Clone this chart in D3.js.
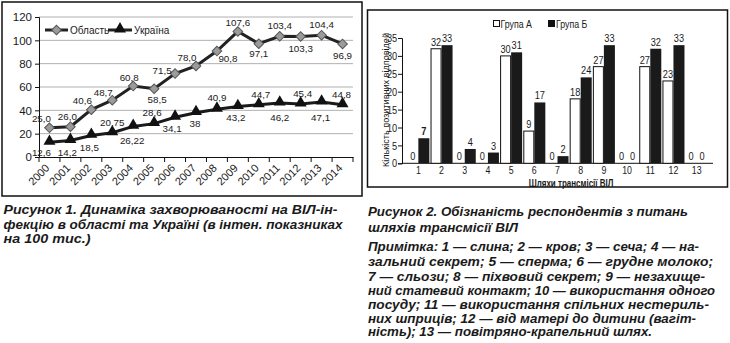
<!DOCTYPE html>
<html><head><meta charset="utf-8">
<script src="https://cdn.jsdelivr.net/npm/d3@7"></script>
<style>
html,body{margin:0;padding:0;background:#fff;}
svg{display:block;}
text{font-family:"Liberation Sans",Arial,sans-serif;fill:#1a1a1a;}
.cap{font-weight:bold;font-style:italic;font-size:13.5px;fill:#1a1a1a;}
</style></head>
<body>
<svg id="c" width="730" height="343"></svg>
<script>
// ---------- data: figure 1 ----------
const years = ["2000","2001","2002","2003","2004","2005","2006","2007","2008","2009","2010","2011","2012","2013","2014"];
const oblast = [25.0,26.0,40.6,48.7,60.8,58.5,71.5,78.0,90.8,107.6,97.1,103.4,103.3,104.4,96.9];
const ukraine = [12.6,14.2,18.5,20.75,26.22,28.6,34.1,38,40.9,43.2,44.7,46.2,45.4,47.1,44.8];
const oblastLabels = ["25,0","26,0","40,6","48,7","60,8","58,5","71,5","78,0","90,8","107,6","97,1","103,4","103,3","104,4","96,9"];
const ukraineLabels = ["12,6","14,2","18,5","20,75","26,22","28,6","34,1","38","40,9","43,2","44,7","46,2","45,4","47,1","44,8"];
const yTicks1 = [0,20,40,60,80,100,120];
const seriesNames1 = ["Область","Україна"];

// ---------- data: figure 2 ----------
const routes = ["1","2","3","4","5","6","7","8","9","10","11","12","13"];
const groupA = [0,32,0,0,30,9,0,18,27,0,27,23,0];
const groupB = [7,33,4,3,31,17,2,24,33,0,32,33,0];
const yTicks2 = [0,5,10,15,20,25,30,35];
const groupNames = ["Група А","Група Б"];

// label placement offsets (layout only)
const oblastOff = [[-8,-9],[-3,-10],[-9,-9],[-9,-8],[-4,-9],[3,11],[-13,-3],[-9,-9],[11,7],[0,-9],[0,10],[0,-11],[0,12],[0,-11],[0,12]];
const ukraineOff = [[-8,10],[-3,12],[-2,12],[0,-10],[-1,14],[-2,-11],[-3,11],[-1,11],[0,-12],[-2,11],[2,-10],[0,14],[2,-11],[-1,15],[-1,-10]];

const svg = d3.select("#c");
const NX = 0.8; // horizontal condensation of figure-2 text

// ===== Figure 1 =====
svg.append("rect").attr("x",2).attr("y",2).attr("width",360).attr("height",194)
  .attr("fill","none").attr("stroke","#111").attr("stroke-width",1.5);

const x1 = d3.scaleBand().domain(years).range([39,353]).padding(0);
const y1 = d3.scaleLinear().domain([0,120]).range([157,17]);
const g1 = svg.append("g");

g1.selectAll(".grid").data(yTicks1.filter(d=>d>0)).join("line")
  .attr("x1",x1.range()[0]).attr("x2",x1.range()[1])
  .attr("y1",d=>y1(d)).attr("y2",d=>y1(d))
  .attr("stroke","#b0b0b0").attr("stroke-width",1);

const ya1 = g1.append("g").attr("transform",`translate(${x1.range()[0]},0)`)
  .call(d3.axisLeft(y1).tickValues(yTicks1).tickSize(4).tickPadding(3));
ya1.select(".domain").attr("stroke","#111");
ya1.selectAll(".tick line").attr("stroke","#111");
ya1.selectAll("text").style("font-size","11.5px").attr("fill","#1a1a1a").style("font-family","Liberation Sans, Arial");

const xa1 = g1.append("g").attr("transform",`translate(0,${y1(0)})`)
  .call(d3.axisBottom(x1).tickSize(0));
xa1.select(".domain").attr("stroke","#111");
xa1.selectAll("text").style("font-size","11px").attr("fill","#1a1a1a")
  .style("font-family","Liberation Sans, Arial")
  .attr("x",0).attr("y",0).attr("dy","0.35em")
  .attr("text-anchor","end")
  .attr("transform","translate(-2,9) rotate(-45)");
const bounds = years.map(d=>x1(d)).concat([x1.range()[1]]);
g1.selectAll(".xt").data(bounds).join("line")
  .attr("x1",d=>d).attr("x2",d=>d).attr("y1",y1(0)).attr("y2",y1(0)+5)
  .attr("stroke","#111");

const cx1 = d => x1(d)+x1.bandwidth()/2;
const line = d3.line().x((d,i)=>cx1(years[i])).y(d=>y1(d));

g1.append("path").datum(oblast).attr("d",line).attr("fill","none").attr("stroke","#222").attr("stroke-width",3);
g1.append("path").datum(ukraine).attr("d",line).attr("fill","none").attr("stroke","#1a1a1a").attr("stroke-width",3);

const diamond = d3.symbol().type(d3.symbolSquare).size(46);
const tri = d3.symbol().type(d3.symbolTriangle).size(62);

g1.selectAll(".dm").data(oblast).join("path")
  .attr("d",diamond).attr("transform",(d,i)=>`translate(${cx1(years[i])},${y1(d)}) rotate(45)`)
  .attr("fill","#9b9b9b").attr("stroke","#555").attr("stroke-width",1);
g1.selectAll(".tr").data(ukraine).join("path")
  .attr("d",tri).attr("transform",(d,i)=>`translate(${cx1(years[i])},${y1(d)-1})`)
  .attr("fill","#111");

g1.selectAll(".lo").data(oblast).join("text")
  .attr("x",(d,i)=>cx1(years[i])+oblastOff[i][0]).attr("y",(d,i)=>y1(d)+oblastOff[i][1])
  .attr("text-anchor","middle").attr("dominant-baseline","central")
  .style("font-size","9.8px").text((d,i)=>oblastLabels[i]);
g1.selectAll(".lu").data(ukraine).join("text")
  .attr("x",(d,i)=>cx1(years[i])+ukraineOff[i][0]).attr("y",(d,i)=>y1(d)+ukraineOff[i][1])
  .attr("text-anchor","middle").attr("dominant-baseline","central")
  .style("font-size","9.8px").text((d,i)=>ukraineLabels[i]);

const lg1 = g1.append("g");
[[45,68,"d"],[108,132,"t"]].forEach((p,k)=>{
  lg1.append("line").attr("x1",p[0]).attr("x2",p[1]).attr("y1",30).attr("y2",30).attr("stroke","#222").attr("stroke-width",3);
  const m=(p[0]+p[1])/2;
  if(p[2]==="d") lg1.append("path").attr("d",diamond).attr("transform",`translate(${m},30) rotate(45)`).attr("fill","#9b9b9b").attr("stroke","#555");
  else lg1.append("path").attr("d",tri).attr("transform",`translate(${m},29)`).attr("fill","#111");
  lg1.append("text").attr("x",p[1]+2).attr("y",30).attr("dominant-baseline","central").style("font-size","10px").text(seriesNames1[k]);
});

// ===== Figure 2 =====
svg.append("rect").attr("x",367.5).attr("y",10).attr("width",360).attr("height",177)
  .attr("fill","none").attr("stroke","#111").attr("stroke-width",1.5);

const x2 = d3.scaleBand().domain(routes).range([402,713]).paddingOuter(0.23).paddingInner(0.05);
const x2s = d3.scaleBand().domain(["A","B"]).range([0,x2.bandwidth()]);
const y2 = d3.scaleLinear().domain([0,35]).range([163.3,38]);
const g2 = svg.append("g");

const ya2 = g2.append("g").attr("transform",`translate(402,0)`)
  .call(d3.axisLeft(y2).tickValues(yTicks2).tickSize(4).tickPadding(2));
ya2.select(".domain").attr("stroke","#111");
ya2.selectAll(".tick line").attr("stroke","#111");
ya2.selectAll("text").style("font-size","11.5px").attr("fill","#1a1a1a")
  .style("font-family","Liberation Sans, Arial").attr("transform",`scale(${NX},1)`);

const xa2 = g2.append("g").attr("transform",`translate(0,${y2(0)})`)
  .call(d3.axisBottom(x2).tickSize(0).tickPadding(3));
xa2.select(".domain").attr("stroke","#111").attr("d",`M402,0H713`);
xa2.selectAll("text").style("font-size","11px").attr("fill","#1a1a1a")
  .style("font-family","Liberation Sans, Arial").attr("transform",`scale(${NX},1)`);

const bars = routes.map((r,i)=>({r,a:groupA[i],b:groupB[i]}));
const bg = g2.selectAll(".bg").data(bars).join("g").attr("transform",d=>`translate(${x2(d.r)},0)`);
bg.append("rect").attr("x",x2s("A")+0.5).attr("width",x2s.bandwidth()-1)
  .attr("y",d=>y2(d.a)).attr("height",d=>y2(0)-y2(d.a))
  .attr("fill","#fff").attr("stroke","#111").attr("stroke-width",d=>d.a>0?1:0);
bg.append("rect").attr("x",x2s("B")).attr("width",x2s.bandwidth())
  .attr("y",d=>y2(d.b)).attr("height",d=>y2(0)-y2(d.b))
  .attr("fill","#1a1a1a");
bg.append("text").attr("transform",d=>`translate(${x2s("A")+x2s.bandwidth()/2},${y2(d.a)-3}) scale(${NX},1)`)
  .attr("text-anchor","middle").style("font-size","11.5px").text(d=>d.a);
bg.append("text").attr("transform",d=>`translate(${x2s("B")+x2s.bandwidth()/2},${y2(d.b)-3}) scale(${NX},1)`)
  .attr("text-anchor","middle").style("font-size","11.5px").style("font-weight",d=>d.r==="1"?"bold":"normal").text(d=>d.b);

g2.append("text").attr("transform","translate(385.5,100) rotate(-90)")
  .attr("text-anchor","middle").attr("dominant-baseline","central").style("font-size","9.5px")
  .attr("textLength",134).attr("lengthAdjust","spacingAndGlyphs").text("Кількість позитивних відповідей");
g2.append("text").attr("transform",`translate(571,183.5) scale(${NX},1)`).attr("text-anchor","middle")
  .attr("dominant-baseline","central").style("font-size","10px").style("font-weight","bold").text("Шляхи трансмісії ВІЛ");

const lg2 = g2.append("g");
lg2.append("rect").attr("x",493.5).attr("y",20.5).attr("width",6).attr("height",6).attr("fill","#fff").attr("stroke","#111");
lg2.append("text").attr("transform",`translate(500.5,24) scale(${NX},1)`).attr("dominant-baseline","central").style("font-size","11px").text(groupNames[0]);
lg2.append("rect").attr("x",548).attr("y",20).attr("width",7).attr("height",7).attr("fill","#111");
lg2.append("text").attr("transform",`translate(556,24) scale(${NX},1)`).attr("dominant-baseline","central").style("font-size","11px").text(groupNames[1]);

// ===== Captions =====
const cap1 = ["Рисунок 1. Динаміка захворюваності на ВІЛ-ін-","фекцію в області та Україні (в інтен. показниках","на 100 тис.)"];
const cap1y = [213.5,228.5,242.5];
const cap1w = [334,339,87];
svg.selectAll(".c1").data(cap1).join("text").attr("class","cap").attr("x",3.5).attr("y",(d,i)=>cap1y[i])
  .attr("textLength",(d,i)=>cap1w[i]).attr("lengthAdjust","spacingAndGlyphs").text(d=>d);

const cap2 = ["Рисунок 2. Обізнаність респондентів з питань","шляхів трансмісії ВІЛ",
 "Примітка: 1 — слина; 2 — кров; 3 — сеча; 4 — на-","зальний секрет; 5 — сперма; 6 — грудне молоко;",
 "7 — сльози; 8 — піхвовий секрет; 9 — незахище-","ний статевий контакт; 10 — використання одного",
 "посуду; 11 — використання спільних нестериль-","них шприців; 12 — від матері до дитини (вагіт-",
 "ність); 13 — повітряно-крапельний шлях."];
const cap2y = [216,231.5,250.5,266,280.5,294.5,308.5,322.5,336];
const cap2w = [320,150,331,345,337,347,341,328,284];
svg.selectAll(".c2").data(cap2).join("text").attr("class","cap").attr("x",368).attr("y",(d,i)=>cap2y[i])
  .attr("textLength",(d,i)=>cap2w[i]).attr("lengthAdjust","spacingAndGlyphs").text(d=>d);
</script>
</body></html>
